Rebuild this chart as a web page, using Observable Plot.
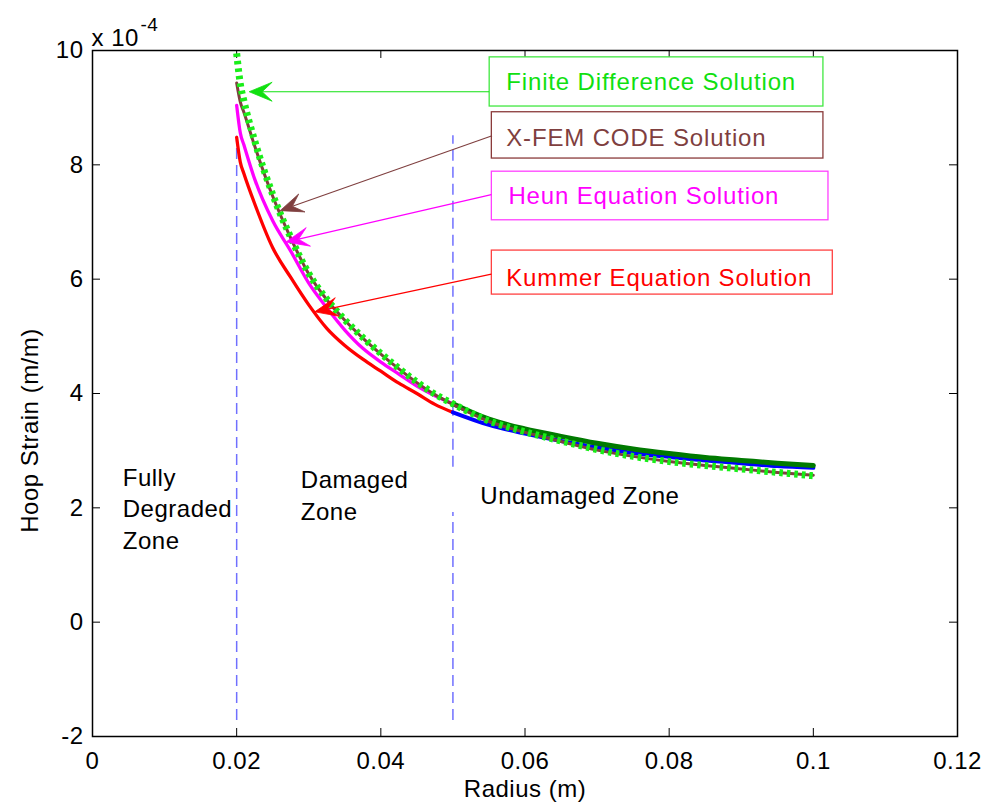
<!DOCTYPE html>
<html><head><meta charset="utf-8">
<script src="https://cdn.jsdelivr.net/npm/d3@7"></script>
<script src="https://cdn.jsdelivr.net/npm/@observablehq/plot@0.6"></script>
<style>body{margin:0;background:#fff}</style>
</head><body><div id="chart"></div>
<script>
// ---- data ----
const xTicks = [0, 0.02, 0.04, 0.06, 0.08, 0.1, 0.12];
const xTickLabels = ["0", "0.02", "0.04", "0.06", "0.08", "0.1", "0.12"];
const yTicks = [-2, 0, 2, 4, 6, 8, 10];
const yTickLabels = ["-2", "0", "2", "4", "6", "8", "10"];
const xLabel = "Radius (m)";
const yLabel = "Hoop Strain (m/m)";
const exponentBase = "x 10";
const exponentPower = "-4";

// damaged zone abscissae
const xDamaged = [0.02, 0.0205, 0.021, 0.0225, 0.025, 0.0275, 0.03, 0.0325, 0.035, 0.0375, 0.04, 0.0425, 0.045, 0.0475, 0.05];
// undamaged zone abscissae
const xUndamaged = [0.05, 0.055, 0.06, 0.065, 0.07, 0.075, 0.08, 0.085, 0.09, 0.095, 0.1];
// full range (FD and X-FEM)
const xFull = [0.02, 0.0205, 0.021, 0.0225, 0.025, 0.0275, 0.03, 0.0325, 0.035, 0.0375, 0.04, 0.0425, 0.045, 0.0475, 0.05,
               0.055, 0.06, 0.065, 0.07, 0.075, 0.08, 0.085, 0.09, 0.095, 0.1];

const finiteDifference = [9.95, 9.42, 9.12, 8.42, 7.48, 6.73, 6.10, 5.65, 5.29, 4.98, 4.70, 4.44, 4.20, 3.99, 3.82,
                          3.52, 3.33, 3.17, 3.02, 2.90, 2.81, 2.74, 2.68, 2.62, 2.56];
const xfemCode = [9.43, 9.10, 8.92, 8.33, 7.45, 6.72, 6.09, 5.64, 5.28, 4.97, 4.69, 4.43, 4.19, 3.98, 3.81,
                  3.51, 3.32, 3.16, 3.01, 2.90, 2.81, 2.74, 2.68, 2.62, 2.57];
const heunDamaged = [9.04, 8.56, 8.35, 7.75, 7.02, 6.49, 5.93, 5.50, 5.11, 4.79, 4.55, 4.34, 4.13, 3.96, 3.82];
const kummerDamaged = [8.48, 8.05, 7.85, 7.32, 6.55, 6.03, 5.55, 5.14, 4.84, 4.60, 4.39, 4.18, 4.00, 3.81, 3.67];
const heunUndamaged = [3.82, 3.55, 3.38, 3.25, 3.13, 3.03, 2.95, 2.88, 2.83, 2.78, 2.74];
const kummerUndamaged = [3.67, 3.45, 3.30, 3.17, 3.06, 2.96, 2.89, 2.83, 2.78, 2.73, 2.70];

// zone dividers (dashed)
const dividerX = [0.02, 0.05, 0.05];
const dividerY1 = [-1.72, -1.72, 2.71];
const dividerY2 = [8.5, 1.92, 8.51];

// zone labels
const zoneText = ["Fully\nDegraded\nZone", "Damaged\nZone", "Undamaged Zone"];
const zoneX = [0.0042, 0.0289, 0.0538];
const zoneY = [2.01, 2.24, 2.25];

// annotation boxes and arrows
const boxLabels = ["Finite Difference Solution", "X-FEM CODE Solution", "Heun Equation Solution", "Kummer Equation Solution"];
const boxColors = ["#10e010", "#7f3f3f", "#ff00ff", "#ff0000"];
const boxStrokes = ["#40e840", "#8a3a3a", "#ff40ff", "#ff4040"];
const boxX1 = [0.0551, 0.0554, 0.0554, 0.0554];
const boxX2 = [0.1014, 0.1014, 0.1021, 0.1027];
const boxY1 = [9.02, 8.11, 7.03, 5.73];
const boxY2 = [9.88, 8.92, 7.88, 6.50];
const labelX = [0.0574, 0.0574, 0.0577, 0.0574];
const labelY = [9.44, 8.47, 7.45, 6.02];
const arrowX1 = [0.0551, 0.0555, 0.0554, 0.0554];
const arrowY1 = [9.27, 8.50, 7.47, 6.08];
const arrowX2 = [0.0218, 0.0261, 0.0269, 0.0309];
const arrowY2 = [9.27, 7.19, 6.64, 5.42];

// ---- tables ----
const rows = (xs, ys) => xs.map((x, i) => ({x, y: ys[i]}));
const fdRows = rows(xFull, finiteDifference);
const xfemRows = rows(xFull, xfemCode);
const heunDRows = rows(xDamaged, heunDamaged);
const kummerDRows = rows(xDamaged, kummerDamaged);
const heunURows = rows(xUndamaged, heunUndamaged);
const kummerURows = rows(xUndamaged, kummerUndamaged);
const dividers = dividerX.map((x, i) => ({x, y1: dividerY1[i], y2: dividerY2[i]}));
const zones = zoneText.map((t, i) => ({t, x: zoneX[i], y: zoneY[i]}));
const boxes = boxLabels.map((t, i) => ({
  t, color: boxColors[i], edge: boxStrokes[i], x1: boxX1[i], x2: boxX2[i], y1: boxY1[i], y2: boxY2[i],
  lx: labelX[i], ly: labelY[i], ax1: arrowX1[i], ay1: arrowY1[i], ax2: arrowX2[i], ay2: arrowY2[i]
}));

const font = "'Liberation Sans', Arial, Helvetica, sans-serif";

function arrowHeads(index, scales) {
  const g = d3.create("svg:g");
  const L = 23, W = 9.5, N = 13;
  for (const b of boxes) {
    const x1 = scales.x(b.ax1), y1 = scales.y(b.ay1);
    const x2 = scales.x(b.ax2), y2 = scales.y(b.ay2);
    const a = Math.atan2(y2 - y1, x2 - x1);
    const pt = (back, side) => [x2 - back * Math.cos(a) - side * Math.sin(a), y2 - back * Math.sin(a) + side * Math.cos(a)];
    const n = pt(N, 0);
    g.append("line").attr("x1", x1).attr("y1", y1).attr("x2", n[0]).attr("y2", n[1])
      .attr("stroke", b.color).attr("stroke-width", 1.1);
    g.append("path")
      .attr("d", "M" + [[x2, y2], pt(L, W), n, pt(L, -W)].map(p => p.join(",")).join("L") + "Z")
      .attr("fill", b.color).attr("stroke", b.color).attr("stroke-width", 0.8);
  }
  return g.node();
}

const chart = Plot.plot({
  width: 993,
  height: 809,
  marginLeft: 92,
  marginRight: 36,
  marginTop: 50,
  marginBottom: 73,
  style: {fontFamily: font, fontSize: "24px", background: "white", color: "black", letterSpacing: "0.5px"},
  x: {domain: [0, 0.12]},
  y: {domain: [-2, 10]},
  marks: [
    // inward ticks (box style)
    Plot.ruleX(xTicks, {x: d => d, insetTop: 678, stroke: "black", strokeWidth: 1}),
    Plot.ruleX(xTicks, {x: d => d, insetBottom: 678, stroke: "black", strokeWidth: 1}),
    Plot.ruleY(yTicks, {y: d => d, insetRight: 857, stroke: "black", strokeWidth: 1}),
    Plot.ruleY(yTicks, {y: d => d, insetLeft: 857, stroke: "black", strokeWidth: 1}),
    Plot.axisX({ticks: xTicks, tickSize: 0, tickPadding: 15, tickFormat: (d) => xTickLabels[xTicks.indexOf(d)], label: null, fontSize: 24}),
    Plot.axisY({ticks: yTicks, tickSize: 0, tickPadding: 9, tickFormat: (d) => yTickLabels[yTicks.indexOf(d)], label: null, fontSize: 24}),
    // dividers
    Plot.ruleX(dividers, {x: "x", y1: "y1", y2: "y2", stroke: "#7070ff", strokeWidth: 1.5, strokeDasharray: "11,6"}),
    // curves
    Plot.line(kummerDRows, {x: "x", y: "y", stroke: "#ff0000", strokeWidth: 3.3, curve: "monotone-x"}),
    Plot.line(heunDRows, {x: "x", y: "y", stroke: "#ff00ff", strokeWidth: 3.3, curve: "monotone-x"}),
    Plot.line(kummerURows, {x: "x", y: "y", stroke: "#0000ff", strokeWidth: 4, curve: "monotone-x"}),
    Plot.line(heunURows, {x: "x", y: "y", stroke: "#007a00", strokeWidth: 5, curve: "monotone-x"}),
    Plot.line(xfemRows, {x: "x", y: "y", stroke: "#7f3f3f", strokeWidth: 3, curve: "monotone-x"}),
    Plot.line(fdRows, {x: "x", y: "y", stroke: "#18ee18", strokeWidth: 7, strokeDasharray: "3.5,4", strokeLinecap: "butt", curve: "monotone-x"}),
    // zone labels
    Plot.text(zones, {x: "x", y: "y", text: "t", textAnchor: "start", lineHeight: 1.33, fill: "black", fontSize: 24}),
    // annotation boxes
    Plot.rect(boxes, {x1: "x1", x2: "x2", y1: "y1", y2: "y2", fill: "white", stroke: "edge", strokeWidth: 1.3}),
    Plot.text(boxes, {x: "lx", y: "ly", text: "t", fill: "color", textAnchor: "start", fontSize: 24}),
    arrowHeads,
    // frame
    Plot.frame({stroke: "black", strokeWidth: 1.5}),
    // axis labels
    Plot.text([xLabel], {frameAnchor: "bottom", textAnchor: "middle", dy: 60, text: d => d, fontSize: 24, fill: "black"}),
    Plot.text([yLabel], {frameAnchor: "left", textAnchor: "middle", dx: -62, dy: 37, rotate: -90, text: d => d, fontSize: 24, fill: "black"}),
    // exponent
    Plot.text([exponentBase], {frameAnchor: "top-left", dx: -1, dy: -22, text: d => d, textAnchor: "start", fontSize: 24, fill: "black"}),
    Plot.text([exponentPower], {frameAnchor: "top-left", dx: 48, dy: -33, text: d => d, textAnchor: "start", fontSize: 19, fill: "black"})
  ]
});
// box text letter spacing
d3.select(chart).selectAll("text").filter(function() { return boxColors.includes(this.getAttribute("fill")); })
  .style("letter-spacing", "0.85px");
document.getElementById("chart").appendChild(chart);
</script>
</body></html>
